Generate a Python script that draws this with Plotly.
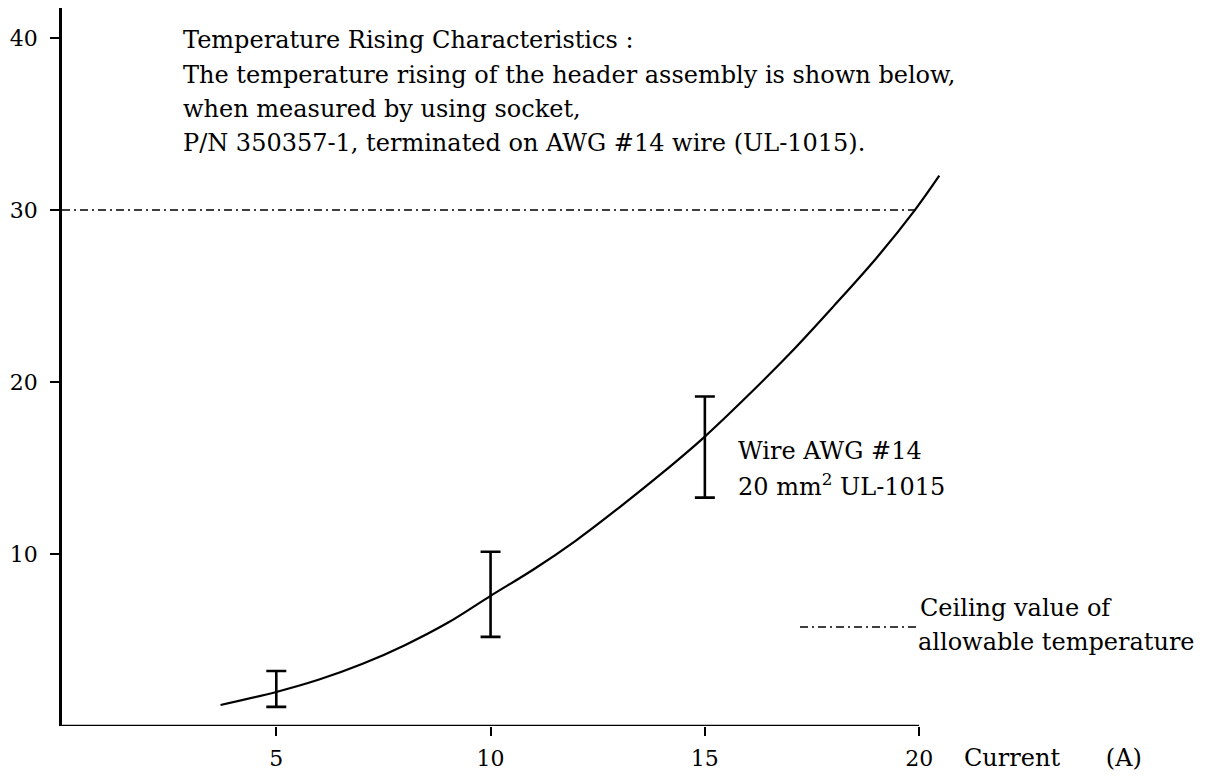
import plotly.graph_objects as go

# ---- data ----
curve_x = [3.7, 5.0, 6.0, 7.0, 8.0, 9.0, 10.0, 11.0, 12.0, 13.0, 14.0, 15.0, 16.0, 17.0, 18.0, 19.0, 19.9, 20.47]
curve_y = [1.22, 1.98, 2.7, 3.6, 4.7, 6.0, 7.57, 9.1, 10.8, 12.7, 14.7, 16.83, 19.2, 21.7, 24.4, 27.2, 30.0, 32.0]

bar_x = [5, 10, 15]
bar_mid = [1.98, 7.57, 16.83]
bar_low = [1.11, 5.18, 13.28]
bar_high = [3.2, 10.13, 19.16]

ceiling_value = 30
ceiling_x = [0, 19.9]

x_ticks = [5, 10, 15, 20]
y_ticks = [10, 20, 30, 40]

title_lines = [
    "Temperature Rising Characteristics :",
    "The temperature rising of the header assembly is shown below,",
    "when measured by using socket,",
    "P/N 350357-1, terminated on AWG #14 wire (UL-1015).",
]
wire_lines = ["Wire AWG #14", "20 mm<sup>2</sup> UL-1015"]
legend_lines = ["Ceiling value of", "allowable temperature"]
legend_x = [17.22, 19.95]
legend_y = 5.76
x_title = "Current" + "&nbsp;" * 6 + "(A)"

FONT = "DejaVu Serif, Liberation Serif, serif"
FS = 24
TFS = 22

fig = go.Figure()

DASH = "8px,4px,2px,4px"

# ceiling line
fig.add_trace(go.Scatter(
    x=ceiling_x, y=[ceiling_value] * len(ceiling_x), mode="lines",
    line=dict(color="black", width=1.5, dash=DASH),
    hoverinfo="skip", showlegend=False))

# legend sample line
fig.add_trace(go.Scatter(
    x=legend_x, y=[legend_y] * len(legend_x), mode="lines",
    line=dict(color="black", width=1.5, dash=DASH),
    hoverinfo="skip", showlegend=False))

# main curve
fig.add_trace(go.Scatter(
    x=curve_x, y=curve_y, mode="lines", line_shape="spline",
    line=dict(color="black", width=2.2), showlegend=False))

# error bars
fig.add_trace(go.Scatter(
    x=bar_x, y=bar_mid, mode="markers",
    marker=dict(size=1, color="rgba(0,0,0,0)"),
    error_y=dict(type="data", symmetric=False,
                 array=[h - m for h, m in zip(bar_high, bar_mid)],
                 arrayminus=[m - l for m, l in zip(bar_mid, bar_low)],
                 color="black", thickness=2.6, width=10),
    showlegend=False))

# x axis line (only to 20)
fig.add_shape(type="line", xref="x", yref="y", x0=0, x1=x_ticks[-1], y0=0, y1=0,
              line=dict(color="black", width=2.6))

annotations = []
title_y = [39.9, 37.85, 35.9, 33.9]
for t, yy in zip(title_lines, title_y):
    annotations.append(dict(x=2.77, y=yy, xref="x", yref="y", text=t, showarrow=False,
                            xanchor="left", yanchor="middle",
                            font=dict(family=FONT, size=FS, color="black")))
for t, yy in zip(wire_lines, [16.0, 14.0]):
    annotations.append(dict(x=15.72, y=yy, xref="x", yref="y", text=t, showarrow=False,
                            xanchor="left", yanchor="middle",
                            font=dict(family=FONT, size=FS, color="black")))
for t, xx, yy in zip(legend_lines, [19.98, 19.93], [6.85, 4.9]):
    annotations.append(dict(x=xx, y=yy, xref="x", yref="y", text=t, showarrow=False,
                            xanchor="left", yanchor="middle",
                            font=dict(family=FONT, size=FS, color="black")))
annotations.append(dict(x=1.0, y=-0.045, xref="paper", yref="paper", text=x_title,
                        showarrow=False, xanchor="left", yanchor="middle",
                        font=dict(family=FONT, size=FS, color="black")))

fig.update_layout(
    width=1209, height=768,
    margin=dict(l=54, r=255, t=0, b=50),
    paper_bgcolor="white", plot_bgcolor="white",
    annotations=annotations,
    showlegend=False,
)
fig.update_xaxes(range=[0, 21], tickvals=x_ticks, ticktext=[str(v) for v in x_ticks],
                 ticks="outside", ticklen=9, tickwidth=2, tickcolor="black",
                 showline=False, showgrid=False, zeroline=False, ticklabelstandoff=4,
                 tickfont=dict(family=FONT, size=TFS, color="black"))
fig.update_yaxes(range=[0, 41.75], tickvals=y_ticks, ticktext=[str(v) for v in y_ticks],
                 ticks="outside", ticklen=9, tickwidth=2, tickcolor="black",
                 showline=True, linewidth=2.6, linecolor="black",
                 showgrid=False, zeroline=False, ticklabelstandoff=8,
                 tickfont=dict(family=FONT, size=TFS, color="black"))

fig.write_html("out.html")
